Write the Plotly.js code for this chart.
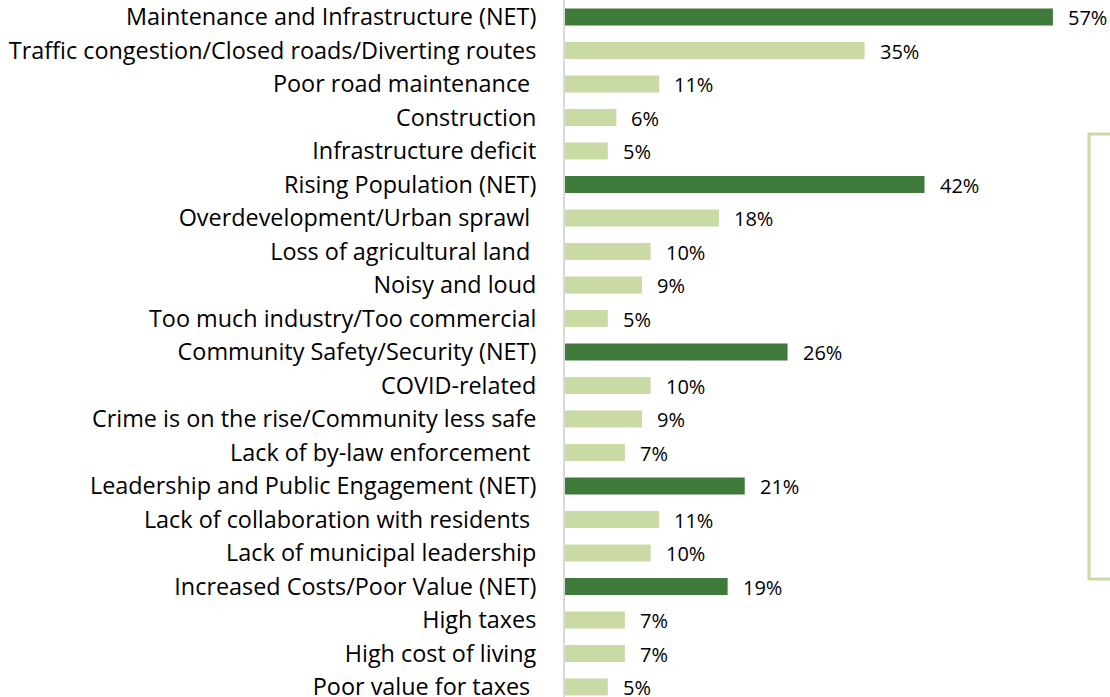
<!DOCTYPE html>
<html>
<head>
<meta charset="utf-8">
<script src="https://cdn.plot.ly/plotly-3.0.1.min.js"></script>
<style>
  html, body { margin: 0; padding: 0; background: #fff; }
  #chart { width: 1110px; height: 697px; }
</style>
</head>
<body>
<div id="chart"></div>
<script>
const categories = [
  "Maintenance and Infrastructure (NET)",
  "Traffic congestion/Closed roads/Diverting routes",
  "Poor road maintenance\u00A0",
  "Construction",
  "Infrastructure deficit",
  "Rising Population (NET)",
  "Overdevelopment/Urban sprawl\u00A0",
  "Loss of agricultural land\u00A0",
  "Noisy and loud",
  "Too much industry/Too commercial",
  "Community Safety/Security (NET)",
  "COVID-related",
  "Crime is on the rise/Community less safe",
  "Lack of by-law enforcement\u00A0",
  "Leadership and Public Engagement (NET)",
  "Lack of collaboration with residents\u00A0",
  "Lack of municipal leadership",
  "Increased Costs/Poor Value (NET)",
  "High taxes",
  "High cost of living",
  "Poor value for taxes\u00A0"
];
const values = [57, 35, 11, 6, 5, 42, 18, 10, 9, 5, 26, 10, 9, 7, 21, 11, 10, 19, 7, 7, 5];
const valueLabels = values.map(v => v + "%");

const DARK = "#3E7B3A";
const LIGHT = "#C9DAA5";
const colors = categories.map(c => c.indexOf("(NET)") >= 0 ? DARK : LIGHT);
const FONT = "'Open Sans', sans-serif";

const trace = {
  type: "bar",
  orientation: "h",
  y: categories,
  x: values,
  width: 0.51,
  marker: { color: colors, line: { width: 0 } },
  hoverinfo: "none"
};

const annotations = values.map((v, i) => ({
  x: v, y: categories[i], xref: "x", yref: "y",
  text: valueLabels[i], showarrow: false,
  xanchor: "left", yanchor: "middle", xshift: 13, yshift: -1,
  font: { family: FONT, size: 20, color: "#000" }
}));

const layout = {
  width: 1110, height: 697,
  margin: { l: 565, r: 0, t: 0, b: 0, pad: 0 },
  paper_bgcolor: "#fff", plot_bgcolor: "#fff",
  showlegend: false,
  font: { family: FONT, size: 20, color: "#000" },
  xaxis: {
    range: [0, 63.67], showgrid: false, zeroline: false,
    showticklabels: false, showline: false, fixedrange: true
  },
  yaxis: {
    type: "category", categoryorder: "array", categoryarray: categories,
    range: [20.3, -0.507], showgrid: false, zeroline: false,
    showline: true, linecolor: "#D9D9D9", linewidth: 2,
    ticks: "", ticklabelstandoff: 22,
    tickfont: { family: FONT, size: 23.4, color: "#000" }
  },
  annotations: annotations,
  shapes: [{
    type: "rect", xref: "paper", yref: "paper",
    x0: (1089 - 565) / 545, x1: 1.2,
    y0: 1 - 579 / 697, y1: 1 - 134 / 697,
    line: { color: LIGHT, width: 3 }, fillcolor: "rgba(0,0,0,0)", layer: "above"
  }]
};

Plotly.newPlot("chart", [trace], layout, { displayModeBar: false, staticPlot: true });
</script>
</body>
</html>
